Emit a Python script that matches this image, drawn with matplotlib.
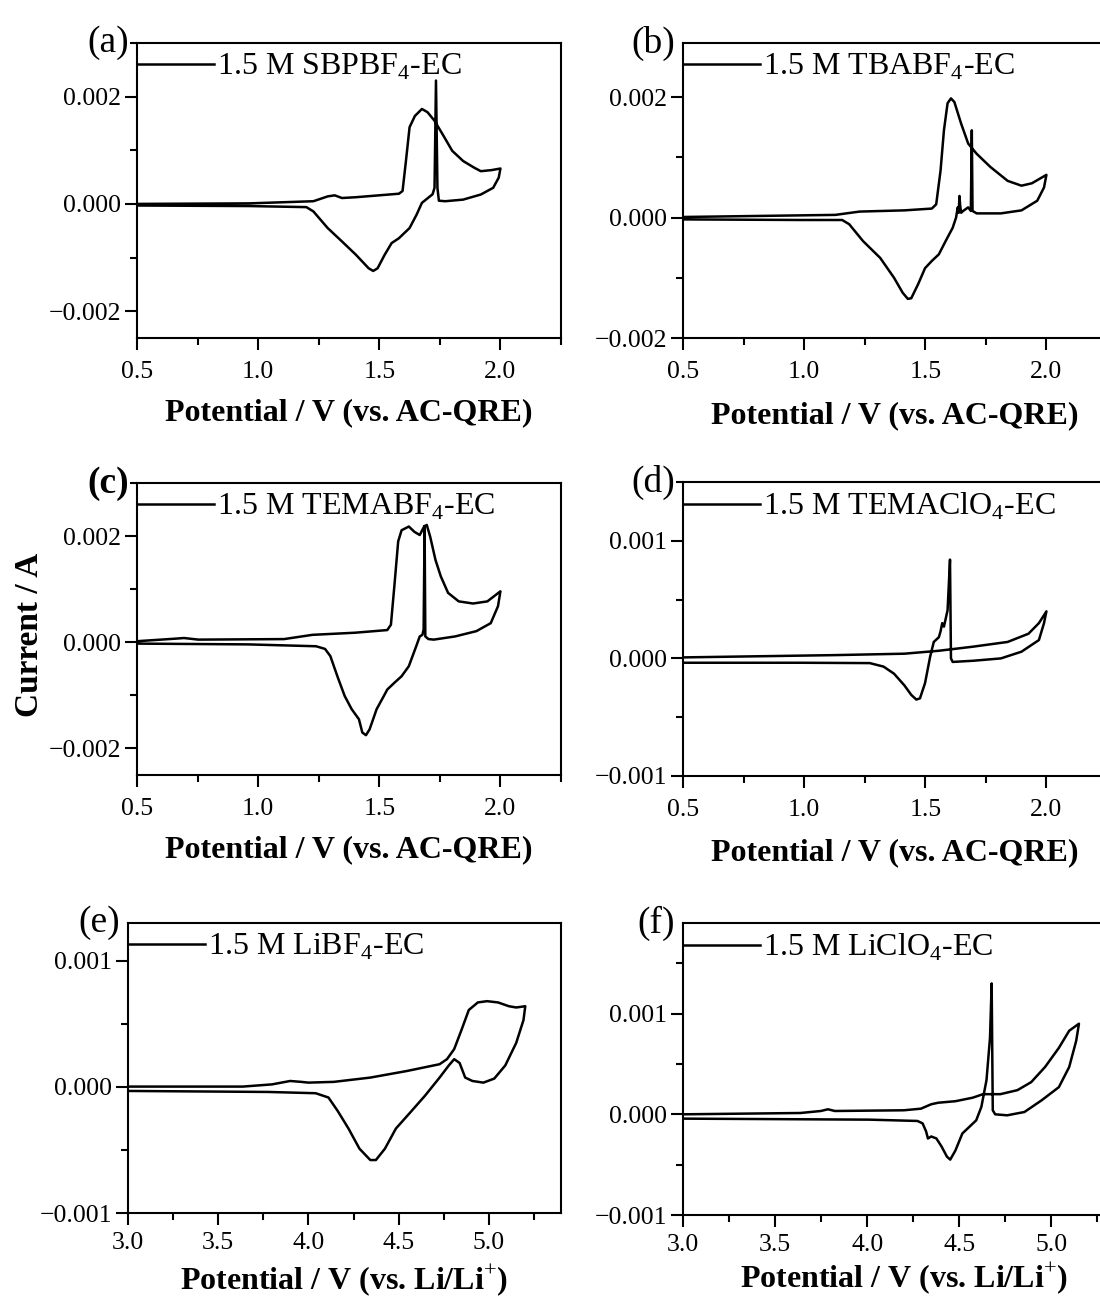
import matplotlib
matplotlib.use('Agg')
import matplotlib.pyplot as plt
from matplotlib.ticker import AutoMinorLocator, FuncFormatter

plt.rcParams['font.family'] = 'serif'
plt.rcParams['font.serif'] = ['Liberation Serif', 'DejaVu Serif']
plt.rcParams['mathtext.fontset'] = 'custom'
plt.rcParams['mathtext.rm'] = 'Liberation Serif'
plt.rcParams['mathtext.bf'] = 'Liberation Serif:bold'

# CV loops: potential (V) and current (A), traced around the loop
a_pot = [0.5, 0.963, 1.228, 1.287, 1.316, 1.346, 1.404, 1.581, 1.596, 1.610, 1.625, 1.647, 1.676, 1.699,
         1.728, 1.765, 1.801, 1.846, 1.89, 1.919, 1.963, 2.0,
         1.993, 1.97, 1.919, 1.846, 1.772, 1.746, 1.74, 1.734, 1.728, 1.72, 1.676, 1.654, 1.625, 1.581,
         1.551, 1.522, 1.493, 1.475, 1.456, 1.404, 1.346, 1.287, 1.228, 1.199, 0.963, 0.5]
a_cur = [0.0, 0.00001, 0.00005, 0.00014, 0.00016, 0.00011, 0.000125, 0.00019, 0.00024, 0.0008, 0.00143,
         0.00164, 0.00177, 0.00171, 0.00155, 0.00127, 0.00099, 0.0008, 0.00068, 0.00061, 0.00063, 0.00066,
         0.00049, 0.0003, 0.000175, 0.00008, 0.00005, 0.00006, 0.0003, 0.0023, 0.0003, 0.00018, 0.00002,
         -0.0002, -0.00045, -0.00064, -0.00073, -0.00095, -0.0012, -0.00125, -0.0012, -0.00095, -0.0007,
         -0.00045, -0.00014, -0.00006, -0.00004, -0.00003]

b_pot = [0.5, 1.129, 1.229, 1.414, 1.527, 1.545, 1.563, 1.577, 1.592, 1.606, 1.62, 1.648, 1.677, 1.712,
         1.769, 1.84, 1.897, 1.94, 2.0,
         1.99, 1.962, 1.897, 1.812, 1.712, 1.695, 1.692, 1.688, 1.677, 1.656, 1.648, 1.644, 1.641, 1.638,
         1.634, 1.627, 1.613, 1.584, 1.556, 1.527, 1.499, 1.47, 1.442, 1.428, 1.407, 1.371, 1.314, 1.243,
         1.186, 1.157, 0.987, 0.5]
b_cur = [0.00001, 0.000045, 0.0001, 0.00012, 0.00015, 0.00022, 0.00078, 0.00145, 0.0019, 0.00198, 0.00192,
         0.00156, 0.00123, 0.00106, 0.00084, 0.00061, 0.00053, 0.00057, 0.00071,
         0.0005, 0.00028, 0.00012, 0.00007, 0.00007, 0.00011, 0.00145, 0.00011, 0.00017, 0.00011, 0.00008,
         0.0002, 0.00036, 0.00008, 0.00017, 0.0, -0.00017, -0.00039, -0.00061, -0.00072, -0.00084, -0.00111,
         -0.00134, -0.00135, -0.00125, -0.001, -0.00067, -0.00039, -0.00011, -0.00004, -0.00004, -0.00003]

c_pot = [0.5, 0.665, 0.694, 0.753, 1.107, 1.18, 1.224, 1.4, 1.533, 1.548, 1.563, 1.578, 1.592, 1.622,
         1.645, 1.667, 1.685, 1.696, 1.71, 1.732, 1.754, 1.784, 1.828, 1.887, 1.946, 2.0,
         1.99, 1.96, 1.901, 1.813, 1.725, 1.703, 1.69, 1.687, 1.683, 1.678, 1.667, 1.652, 1.622, 1.592,
         1.563, 1.533, 1.519, 1.489, 1.46, 1.445, 1.43, 1.416, 1.386, 1.357, 1.327, 1.298, 1.276, 1.239,
         0.959, 0.5]
c_cur = [0.00002, 0.00007, 0.00008, 0.00005, 0.00006, 0.00011, 0.00014, 0.00018, 0.00023, 0.00033, 0.0011,
         0.0019, 0.00211, 0.00218, 0.00208, 0.00202, 0.00218, 0.00221, 0.00199, 0.00155, 0.00124, 0.00093,
         0.00077, 0.00073, 0.00077, 0.00096,
         0.00068, 0.00036, 0.00021, 0.00011, 0.00005, 0.00006, 0.00011, 0.00219, 0.00024, 0.00014, 0.00011,
         -0.00008, -0.00045, -0.00064, -0.00076, -0.00089, -0.00101, -0.00126, -0.00164, -0.00175, -0.0017,
         -0.00145, -0.00126, -0.00101, -0.00064, -0.00026, -0.000125, -0.000075, -0.00004, -0.000025]

d_pot = [0.5, 1.129, 1.414, 1.556, 1.698, 1.84, 1.926, 1.969, 2.0,
         1.99, 1.969, 1.897, 1.812, 1.698, 1.613, 1.606, 1.602, 1.596, 1.592, 1.577, 1.57, 1.563, 1.556,
         1.535, 1.52, 1.499, 1.478, 1.463, 1.442, 1.414, 1.371, 1.328, 1.271, 0.987, 0.5]
d_cur = [0.0000085, 0.000028, 0.00004, 0.000065, 0.0001, 0.00014, 0.00021, 0.0003, 0.0004,
         0.0003, 0.000156, 0.000057, 0.0, -0.00002, -0.00003, 0.0, 0.00084, 0.00058, 0.00041, 0.00027,
         0.0003, 0.00023, 0.00018, 0.00014, 0.000014, -0.00021, -0.00034, -0.00035, -0.00031, -0.00023,
         -0.00013, -0.00007, -0.00004, -0.000037, -0.000037]

e_pot = [3.0, 3.636, 3.798, 3.899, 3.96, 4.0, 4.141, 4.343, 4.545, 4.727, 4.768, 4.808, 4.848, 4.889,
         4.939, 4.99, 5.051, 5.111, 5.152, 5.202,
         5.192, 5.152, 5.091, 5.03, 4.97, 4.909, 4.869, 4.838, 4.808, 4.778, 4.727, 4.646, 4.566, 4.485,
         4.424, 4.374, 4.343, 4.283, 4.222, 4.162, 4.111, 4.04, 3.778, 3.0]
e_cur = [0.0000026, 0.0000026, 0.00002, 0.000047, 0.00004, 0.000034, 0.00004, 0.000074, 0.000126, 0.00018,
         0.00022, 0.0003, 0.00045, 0.00061, 0.00067, 0.00068, 0.00067, 0.00064, 0.00063, 0.00064,
         0.00053, 0.00035, 0.00017, 0.000066, 0.000034, 0.000047, 0.000074, 0.00019, 0.00022, 0.00017,
         0.000074, -0.00007, -0.0002, -0.00033, -0.00049, -0.00058, -0.00058, -0.00049, -0.00033, -0.00019,
         -0.000084, -0.00005, -0.00004, -0.000032]

f_pot = [3.0, 3.637, 3.749, 3.787, 3.824, 4.199, 4.292, 4.348, 4.386, 4.479, 4.573, 4.629, 4.667, 4.723,
         4.816, 4.891, 4.966, 5.041, 5.097, 5.15,
         5.135, 5.097, 5.041, 4.948, 4.854, 4.76, 4.695, 4.682, 4.676, 4.667, 4.648, 4.62, 4.592, 4.554,
         4.517, 4.479, 4.451, 4.433, 4.404, 4.376, 4.348, 4.33, 4.32, 4.301, 4.273, 4.011, 3.0]
f_cur = [0.0, 0.000013, 0.000033, 0.00005, 0.000033, 0.00004, 0.000056, 0.0001, 0.000115, 0.00013, 0.000165,
         0.0002, 0.0002, 0.0002, 0.00024, 0.00032, 0.00047, 0.00066, 0.00083, 0.0009,
         0.00073, 0.00047, 0.00027, 0.00014, 0.000023, -0.00001, 0.0, 0.00004, 0.0013, 0.00076, 0.00034,
         0.000073, -0.00006, -0.000126, -0.00019, -0.00036, -0.00045, -0.00042, -0.00032, -0.00024, -0.00022,
         -0.00024, -0.00017, -0.00009, -0.000066, -0.000053, -0.000043]

labels = ['1.5 M SBPBF$_4$-EC', '1.5 M TBABF$_4$-EC', '1.5 M TEMABF$_4$-EC',
          '1.5 M TEMAClO$_4$-EC', '1.5 M LiBF$_4$-EC', '1.5 M LiClO$_4$-EC']
panel_tags = ['(a)', '(b)', '(c)', '(d)', '(e)', '(f)']
xlabel_qre = 'Potential / V (vs. AC-QRE)'
xlabel_li = 'Potential / V (vs. Li/Li$^{+}$)'

W, H = 1100, 1297
fig = plt.figure(figsize=(W / 100, H / 100), dpi=100)

# panel boxes in pixels: left, right, top, bottom, and x-label centre
boxes = [(137, 561, 43, 338, 413), (683, 1107, 43, 338, 416),
         (137, 561, 483, 775, 850), (683, 1107, 482, 776, 853),
         (128, 561, 923, 1213, 1280), (683, 1125, 923, 1215, 1278)]
xlims = [(0.5, 2.25)] * 4 + [(3.0, 5.4)] * 2
ylims = [(-0.0025, 0.003), (-0.002, 0.0029), (-0.0025, 0.003),
         (-0.001, 0.0015), (-0.001, 0.0013), (-0.001, 0.0019)]
yticks = [[-0.002, 0, 0.002]] * 3 + [[-0.001, 0, 0.001]] * 3
data = [(a_pot, a_cur), (b_pot, b_cur), (c_pot, c_cur),
        (d_pot, d_cur), (e_pot, e_cur), (f_pot, f_cur)]


def yfmt(v, pos):
    s = '%.3f' % (round(v, 6) + 0.0)
    return s.replace('-', '\u2212')


for i in range(6):
    l, r, t, b, xl = boxes[i]
    ax = fig.add_axes([l / W, 1 - b / H, (r - l) / W, (b - t) / H])
    x, y = data[i]
    ax.plot(x, y, color='black', lw=1.8, label=labels[i])
    ax.set_xlim(*xlims[i])
    ax.set_ylim(*ylims[i])
    ax.set_yticks(yticks[i])
    ax.yaxis.set_major_formatter(FuncFormatter(yfmt))
    ax.xaxis.set_major_formatter(FuncFormatter(lambda v, p: '%.1f' % v))
    ax.xaxis.set_minor_locator(AutoMinorLocator(2))
    ax.yaxis.set_minor_locator(AutoMinorLocator(2))
    ax.tick_params(which='major', direction='out', length=8.5, width=1.5, labelsize=18.5)
    ax.tick_params(which='minor', direction='out', length=5, width=1.5)
    ax.tick_params(axis='x', which='major', pad=8 if i < 4 else 5)
    ax.tick_params(axis='y', which='major', pad=3)
    for sp in ax.spines.values():
        sp.set_linewidth(1.5)

    ax.set_xlabel(xlabel_qre if i < 4 else xlabel_li, fontsize=23, fontweight='bold')
    ax.xaxis.set_label_coords(0.5, -(xl - b) / (b - t))
    ax.xaxis.label.set_verticalalignment('center')

    ax.legend(loc='upper left', bbox_to_anchor=(0, 1 - 9 / (b - t)), frameon=False, fontsize=23,
              borderaxespad=0, borderpad=0, handlelength=2.4, handletextpad=0.1)

    ax.text(-8 / (r - l), 1, panel_tags[i], transform=ax.transAxes,
            fontsize=27, ha='right', va='center',
            fontweight='bold' if panel_tags[i] == '(c)' else 'normal')

fig.text(30 / W, 1 - 635 / H, 'Current / A', rotation=90, fontsize=24, fontweight='bold',
         ha='center', va='center')

fig.savefig('out.png', dpi=100)
